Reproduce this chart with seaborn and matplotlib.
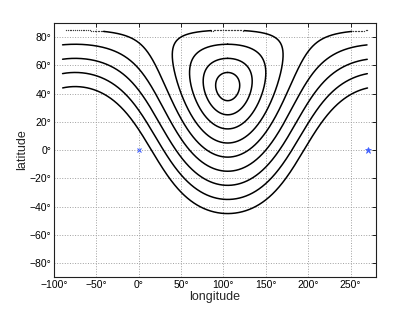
import numpy as np
import pandas as pd
import seaborn as sns
import matplotlib.pyplot as plt

sns.set_theme(style="white")
plt.rcParams['font.family'] = ['Liberation Sans', 'DejaVu Sans']

# small circles drawn around one point (degrees)
center_lon = 105.0
center_lat = 45.0
radii = [10, 20, 30, 40, 50, 60, 70, 80, 90]

# the two blue markers
x_mark = (0.0, 0.0)
star_mark = (270.0, 0.0)

xticks = [-100, -50, 0, 50, 100, 150, 200, 250]
yticks = [-80, -60, -40, -20, 0, 20, 40, 60, 80]


def small_circle(lon0, lat0, r, n=1440):
    p0, l0, rr = np.radians(lat0), np.radians(lon0), np.radians(r)
    az = np.linspace(0, 2 * np.pi, n, endpoint=False)
    lat = np.arcsin(np.sin(p0) * np.cos(rr) + np.cos(p0) * np.sin(rr) * np.cos(az))
    lon = l0 + np.arctan2(np.sin(az) * np.sin(rr) * np.cos(p0),
                          np.cos(rr) - np.sin(p0) * np.sin(lat))
    lon = (np.degrees(lon) + 90) % 360 - 90
    return lon, np.degrees(lat)


rows = []
dots = []
seg = 0
for r in radii:
    lon, lat = small_circle(center_lon, center_lat, r)
    jumps = np.where(np.abs(np.diff(np.append(lon, lon[0]))) > 180)[0]
    if len(jumps):
        k = jumps[0] + 1
        lon, lat = np.roll(lon, -k), np.roll(lat, -k)
    else:
        lon, lat = np.append(lon, lon[0]), np.append(lat, lat[0])
    step = np.abs(np.diff(lon))
    # sparse parts (near the pole) show up as separate dots
    solid = step < 1.6
    start = None
    for i, s in enumerate(solid):
        if s and start is None:
            start = i
        if (not s or i == len(solid) - 1) and start is not None:
            end = i + 1 if s else i
            for j in range(start, end + 1):
                rows.append((seg, lon[j], lat[j]))
            seg += 1
            start = None
    for j in np.where(~solid)[0]:
        dots.append((lon[j], lat[j]))

df = pd.DataFrame(rows, columns=['seg', 'lon', 'lat'])
dots = pd.DataFrame(dots, columns=['lon', 'lat'])

fig = plt.figure(figsize=(4.15, 3.12), dpi=100)
ax = fig.add_axes([0.130, 0.112, 0.776, 0.814])

sns.lineplot(data=df, x='lon', y='lat', units='seg', estimator=None, sort=False,
             color='black', linewidth=1.1, ax=ax)
sns.scatterplot(data=dots, x='lon', y='lat', s=0.9, color='#404040',
                linewidth=0, ax=ax)

ax.plot(*x_mark, marker='x', color='#4060ff', ms=3.5, mew=0.8, linestyle='none')
ax.plot(*star_mark, marker='*', color='#4060ff', ms=5, mew=0.5, linestyle='none')

ax.set_xlim(-100, 280)
ax.set_ylim(-90, 90)
ax.set_xticks(xticks)
ax.set_yticks(yticks)
ax.set_xticklabels([f'{t}°'.replace('-', '\u2212') for t in xticks], fontsize=7.5)
ax.set_yticklabels([f'{t}°'.replace('-', '\u2212') for t in yticks], fontsize=7.5)
ax.set_xlabel('longitude', fontsize=9, labelpad=1)
ax.set_ylabel('latitude', fontsize=9, labelpad=1)

ax.grid(True, linestyle=':', color='#a0a0a0', linewidth=0.7)
ax.tick_params(direction='in', length=3, width=0.6, top=True, right=True,
               pad=2, colors='black')
for sp in ax.spines.values():
    sp.set_color('#202020')
    sp.set_linewidth(0.8)

fig.savefig('out.png', dpi=100)
